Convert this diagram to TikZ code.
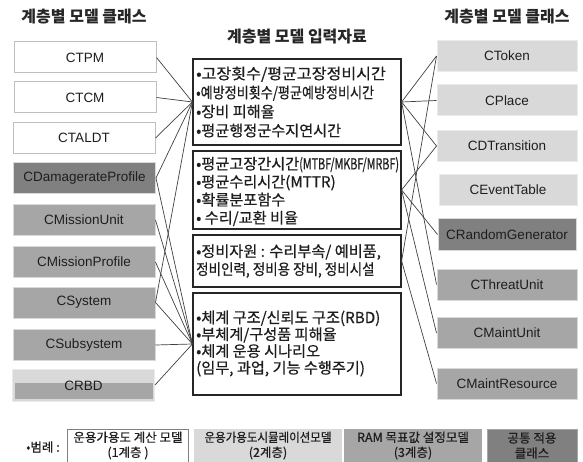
\documentclass[tikz,border=0pt]{standalone}
\usepackage{fontspec}
\setmainfont{Liberation Sans}
\newfontfamily\kr{Noto Sans CJK KR}
\newfontfamily\krm[FakeBold=0.6]{Noto Sans CJK KR}
\definecolor{lg}{HTML}{D9D9D9}
\definecolor{mg}{HTML}{A6A6A6}
\definecolor{dg}{HTML}{808080}
\definecolor{ink}{HTML}{1E1E1E}
\begin{document}
\begin{tikzpicture}[x=1pt,y=-1pt,
  cbox/.style={rectangle, minimum width=142pt, minimum height=31pt, inner sep=0pt,
    line width=1pt, font=\fontsize{13.5}{16}\selectfont, text=ink},
  wbox/.style={cbox, fill=white, draw=black!25},
  lbox/.style={cbox, fill=lg, draw=black!8},
  mbox/.style={cbox, fill=mg, draw=black!15},
  dbox/.style={cbox, fill=dg, draw=black!15},
  midbox/.style={rectangle, draw=black!85, line width=1.2pt, fill=white, minimum width=208pt, inner sep=0pt},
  midtxt/.style={anchor=west, align=left, inner sep=0pt, text=ink},
  title/.style={font=\kr\bfseries\fontsize{16}{18}\selectfont, text=black!85},
  conn/.style={draw=black!75, line width=0.7pt},
  leg/.style={inner sep=0pt, align=center, font=\krm\fontsize{12.5}{15}\selectfont, text=ink}
]
\useasboundingbox (0,0) rectangle (583,462);

% titles
\node[title] (tl) at (84,17) {계층별 모델 클래스};
\node[title] (tm) at (297,37) {계층별 모델 입력자료};
\node[title] (tr) at (507,17) {계층별 모델 클래스};

% left boxes
\node[wbox] (ctpm) at (85,57.5) {CTPM};
\node[wbox] (ctcm) at (85,97.5) {CTCM};
\node[wbox] (ctaldt) at (84,138) {CTALDT};
\node[dbox] (cdam) at (84.5,178) {CDamagerateProfile};
\node[mbox] (cmu) at (84,220) {CMissionUnit};
\node[mbox] (cmp) at (84,262) {CMissionProfile};
\node[mbox] (csys) at (84,302.5) {CSystem};
\node[mbox] (csub) at (84,345) {CSubsystem};
\node[lbox, minimum height=32pt] (crbd) at (83.5,385) {};
\fill[mg] (14.5,383) rectangle (152.5,398.5);
\node[font=\fontsize{13.5}{16}\selectfont, text=ink, inner sep=0pt] (crbdt) at (83.5,386) {CRBD};

% right boxes
\node[lbox, minimum width=140pt] (ctok) at (507,56) {CToken};
\node[lbox, minimum width=140pt] (cpl) at (507,100.5) {CPlace};
\node[lbox, minimum width=140pt] (cdt) at (507,146) {CDTransition};
\node[lbox, minimum width=138pt] (cet) at (508,190) {CEventTable};
\node[dbox, minimum width=138pt] (crg) at (507,234.5) {CRandomGenerator};
\node[mbox, minimum width=140pt] (ctu) at (507,284.5) {CThreatUnit};
\node[mbox, minimum width=140pt] (cmt) at (507,333) {CMaintUnit};
\node[mbox, minimum width=140pt] (cmr) at (507,383.5) {CMaintResource};

% middle boxes
\node[midbox, minimum height=86pt] (m1) at (297,102) {};
\node[midbox, minimum height=78pt] (m2) at (297,190) {};
\node[midbox, minimum height=52pt] (m3) at (297,261) {};
\node[midbox, minimum height=102pt] (m4) at (297,344) {};

\node[midtxt, font=\krm\fontsize{15.2}{19}\selectfont] (t1) at (196,102) {\scalebox{1.06}[1]{•고장횟수/평균고장정비시간}\\\scalebox{0.86}[1]{•예방정비횟수/평균예방정비시간}\\•장비 피해율\\•평균행정군수지연시간};
\node[midtxt, font=\krm\fontsize{15.2}{18}\selectfont] (t2) at (196,191.5) {•평균고장간시간\scalebox{0.71}[1]{(MTBF/MKBF/MRBF)}\\•평균수리시간(MTTR)\\•확률분포함수\\• 수리/교환 비율};
\node[midtxt, font=\krm\fontsize{15.2}{18}\selectfont] (t3) at (196,261) {•정비자원 : 수리부속/ 예비품,\\\scalebox{0.89}[1]{정비인력, 정비용 장비, 정비시설}};
\node[midtxt, font=\krm\fontsize{15.2}{16.8}\selectfont] (t4) at (196,343.5) {•체계 구조/신뢰도 구조(RBD)\\•부체계/구성품 피해율\\•체계 운용 시나리오\\(임무, 과업, 기능 수행주기)};

% left connectors
\foreach \s in {ctpm,ctcm,ctaldt,cdam,csys}
  \draw[conn] (\s.east) -- (m1.west);
\foreach \s in {cdam,cmu,cmp,csys,csub,crbd}
  \draw[conn] (\s.east) -- (m4.west);

% right connectors
\foreach \t in {ctok,cpl,cdt,ctu}
  \draw[conn] (m1.east) -- (\t.west);
\foreach \t in {cdt,crg,cmt}
  \draw[conn] (m2.east) -- (\t.west);
\foreach \t in {ctok,cmr}
  \draw[conn] (m3.east) -- (\t.west);

% legend
\node[inner sep=0pt, font=\krm\fontsize{12.5}{15}\selectfont, text=ink] (lgl) at (43,447) {•범례 :};
\path[fill=white, draw=black!50, line width=1pt] (67.5,429) rectangle (188,463);
\fill[lg] (193.5,429) rectangle (342,463);
\fill[mg] (344,429) rectangle (482,463);
\path[fill=dg, draw=black!35, line width=0.8pt] (487,429) rectangle (577,463);
\node[leg] (lg1) at (128,445.5) {운용가용도 계산 모델\\(1계층 )};
\node[leg] (lg2) at (268,445.5) {\scalebox{0.92}[1]{운용가용도시뮬레이션모델}\\(2계층)};
\node[leg] (lg3) at (413,445.5) {RAM 목표값 설정모델\\(3계층)};
\node[leg] (lg4) at (532,445.5) {공통 적용\\클래스};
\end{tikzpicture}
\end{document}
